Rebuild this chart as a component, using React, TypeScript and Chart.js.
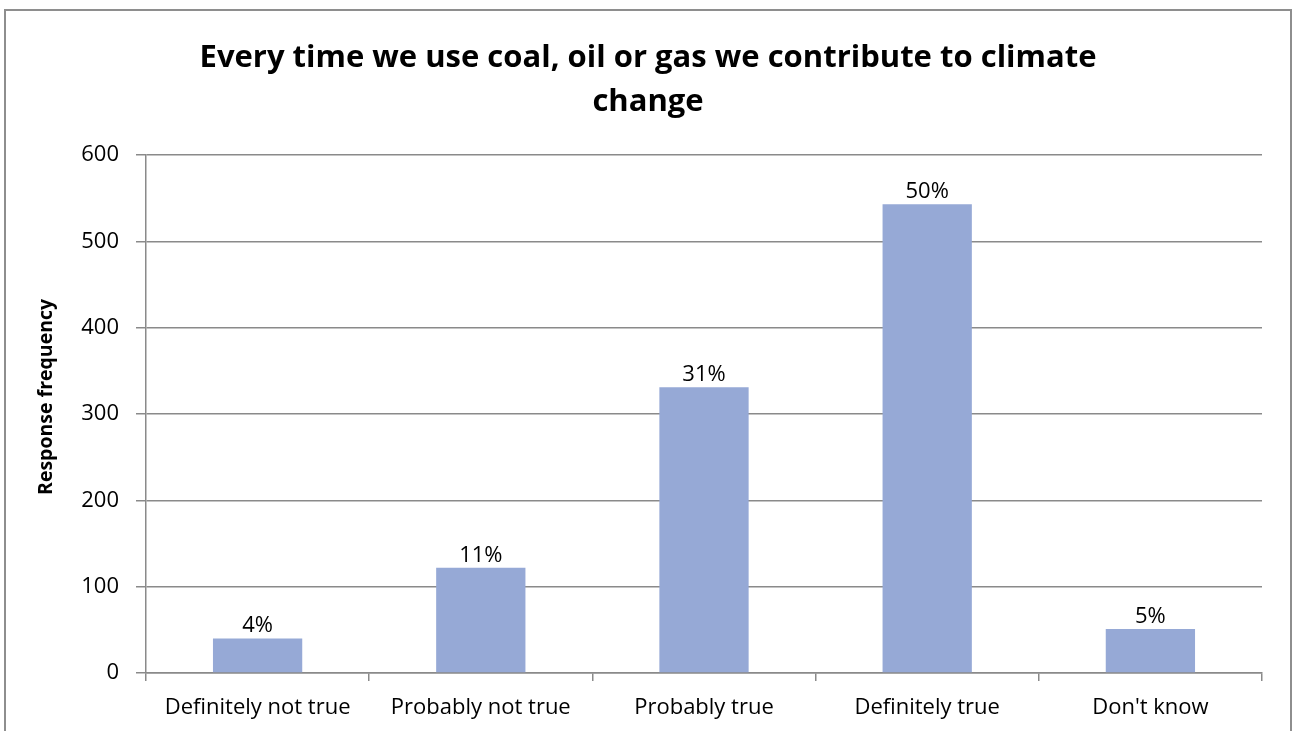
import React, { useEffect, useRef } from "react";
import { Chart, registerables } from "chart.js";

Chart.register(...registerables);

const categories = ["Definitely not true", "Probably not true", "Probably true", "Definitely true", "Don't know"];
const responseCounts = [40, 122, 331, 543, 51];
const percentLabels = ["4%", "11%", "31%", "50%", "5%"];
const titleLines = ["Every time we use coal, oil or gas we contribute to climate", "change"];
const yAxisTitle = "Response frequency";

const FONT = "'Open Sans', 'Noto Sans', sans-serif";
const GRID = "#8a8a8a";

const percentPlugin = {
  id: "percentLabels",
  afterDatasetsDraw(chart: any) {
    const ctx = chart.ctx;
    const meta = chart.getDatasetMeta(0);
    ctx.save();
    ctx.font = `22px ${FONT}`;
    ctx.fillStyle = "#000";
    ctx.textAlign = "center";
    ctx.textBaseline = "alphabetic";
    meta.data.forEach((bar: any, i: number) => {
      ctx.fillText(percentLabels[i], bar.x, bar.y - 6);
    });
    ctx.restore();
  },
};

const yTitlePlugin = {
  id: "yTitle",
  afterDraw(chart: any) {
    const ctx = chart.ctx;
    const area = chart.chartArea;
    ctx.save();
    ctx.font = `bold 19.5px ${FONT}`;
    ctx.fillStyle = "#000";
    ctx.textAlign = "center";
    ctx.textBaseline = "middle";
    ctx.translate(46, area.top + (area.bottom - area.top) * 0.467);
    ctx.rotate(-Math.PI / 2);
    ctx.fillText(yAxisTitle, 0, 0);
    ctx.restore();
  },
};

export default function App() {
  const ref = useRef<HTMLCanvasElement | null>(null);
  useEffect(() => {
    if (!ref.current) return;
    const chart = new Chart(ref.current, {
      type: "bar",
      data: {
        labels: categories,
        datasets: [
          {
            data: responseCounts,
            backgroundColor: "#96A9D6",
            borderWidth: 0,
            barPercentage: 0.4,
            categoryPercentage: 1,
          },
        ],
      },
      options: {
        responsive: false,
        animation: false,
        devicePixelRatio: 1,
        layout: { padding: { left: 34, right: 30, top: 0, bottom: 0 } },
        plugins: {
          legend: { display: false },
          tooltip: { enabled: false },
          title: {
            display: true,
            text: titleLines,
            color: "#000",
            font: { family: FONT, size: 31, weight: "bold", lineHeight: 1.42 },
            padding: { top: 36, bottom: 31 },
          },
        },
        scales: {
          x: {
            offset: true,
            grid: {
              offset: true,
              drawOnChartArea: false,
              drawTicks: true,
              tickLength: 8,
              color: GRID,
              lineWidth: 1.5,
            },
            border: { display: true, color: GRID, width: 1.5 },
            ticks: { color: "#000", font: { family: FONT, size: 22 }, padding: 14, maxRotation: 0, autoSkip: false },
            afterFit: (s: any) => {
              s.height = 58;
            },
          },
          y: {
            min: 0,
            max: 600,
            ticks: { stepSize: 100, color: "#000", font: { family: FONT, size: 22 }, padding: 17 },
            grid: { color: GRID, lineWidth: 1.5, tickLength: 10, drawTicks: true },
            border: { display: true, color: GRID, width: 1.5 },
            title: { display: false },
            afterFit: (s: any) => {
              s.width = 112;
            },
          },
        },
      },
      plugins: [percentPlugin, yTitlePlugin],
    });
    return () => chart.destroy();
  }, []);

  return (
    <div style={{ position: "absolute", left: 0, top: 0, width: 1292, height: 731, background: "#fff", overflow: "hidden" }}>
      <canvas ref={ref} width={1292} height={731} style={{ position: "absolute", left: 0, top: 0 }} />
      <div
        style={{
          position: "absolute",
          left: 4,
          top: 9,
          width: 1288,
          height: 740,
          border: "2px solid #8e8e8e",
          boxSizing: "border-box",
          pointerEvents: "none",
        }}
      />
    </div>
  );
}
